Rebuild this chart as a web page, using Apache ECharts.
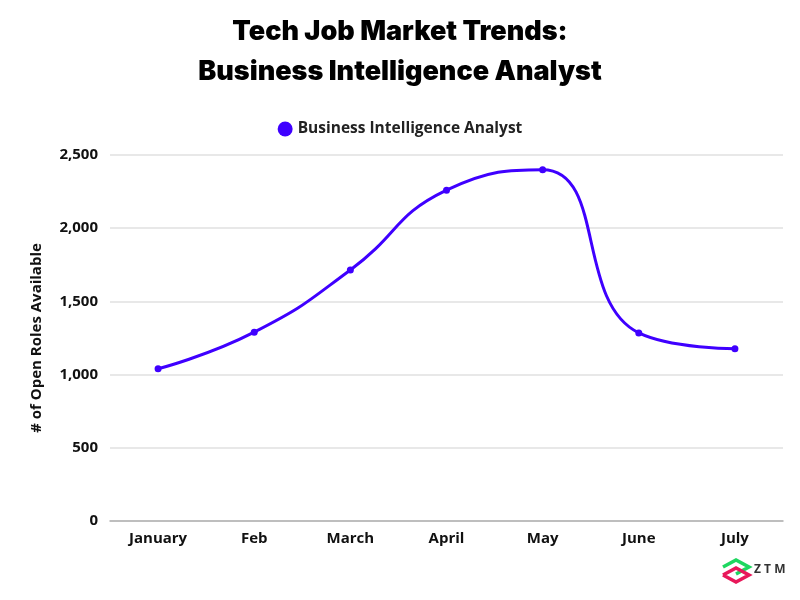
<!DOCTYPE html>
<html>
<head>
<meta charset="utf-8">
<script src="https://cdn.jsdelivr.net/npm/echarts@6/dist/echarts.min.js"></script>
<style>html,body{margin:0;padding:0;background:#fff}#c{width:800px;height:600px}</style>
</head>
<body>
<div id="c"></div>
<script>
const categories = ['January', 'Feb', 'March', 'April', 'May', 'June', 'July'];
const openRoles = [1040, 1290, 1715, 2260, 2400, 1285, 1177];
const seriesName = 'Business Intelligence Analyst';
const yTicks = [0, 500, 1000, 1500, 2000, 2500];

const chart = echarts.init(document.getElementById('c'));
chart.setOption({
  backgroundColor: '#fff',
  title: {
    text: 'Tech Job Market Trends:\nBusiness Intelligence Analyst',
    left: 'center',
    top: 7,
    textStyle: { fontFamily: 'Inter', fontWeight: 900, fontSize: 27, color: '#000', lineHeight: 40 }
  },
  legend: {
    top: 116,
    left: 'center',
    icon: 'circle',
    itemWidth: 15, itemHeight: 15,
    itemGap: 10,
    textStyle: { fontFamily: 'Open Sans', fontWeight: 'bold', fontSize: 15.5, color: '#222' }
  },
  grid: { left: 110, right: 17, top: 155, bottom: 79 },
  xAxis: {
    type: 'category',
    data: categories,
    axisLine: { show: true, lineStyle: { color: '#b0b0b0', width: 1.5 } },
    axisTick: { show: false },
    axisLabel: { margin: 10, fontFamily: 'Open Sans', fontWeight: 'bold', fontSize: 15, color: '#111' }
  },
  yAxis: {
    type: 'value',
    min: 0, max: 2500, interval: 500,
    name: '# of Open Roles Available',
    nameLocation: 'middle',
    nameGap: 66,
    nameTextStyle: { fontFamily: 'Open Sans', fontWeight: 'bold', fontSize: 15, color: '#111' },
    axisLabel: {
      margin: 12, fontFamily: 'Open Sans', fontWeight: 'bold', fontSize: 15, color: '#111',
      formatter: v => yTicks.includes(v) ? v.toLocaleString('en-US') : ''
    },
    splitLine: { lineStyle: { color: '#e0e0e0', width: 1.5 } }
  },
  series: [{
    name: seriesName,
    type: 'line',
    data: openRoles,
    smooth: 0.5,
    symbol: 'circle',
    symbolSize: 7,
    itemStyle: { color: '#3f00ff' },
    lineStyle: { color: '#3f00ff', width: 3 }
  }],
  graphic: [
    { type: 'polyline', shape: { points: [[723,567],[736,560],[749,567],[736,574]] }, style: { fill: 'none', stroke: '#1ed760', lineWidth: 3.5 } },
    { type: 'polyline', shape: { points: [[723,575],[736,568],[749,575],[736,582],[723,575]] }, style: { fill: 'none', stroke: '#e8185a', lineWidth: 3.5 } },
    { type: 'text', left: 754, top: 564, style: { text: 'Z T M', fontFamily: 'Open Sans', fontWeight: 'bold', fontSize: 12, fill: '#333' } }
  ]
});
</script>
</body>
</html>
